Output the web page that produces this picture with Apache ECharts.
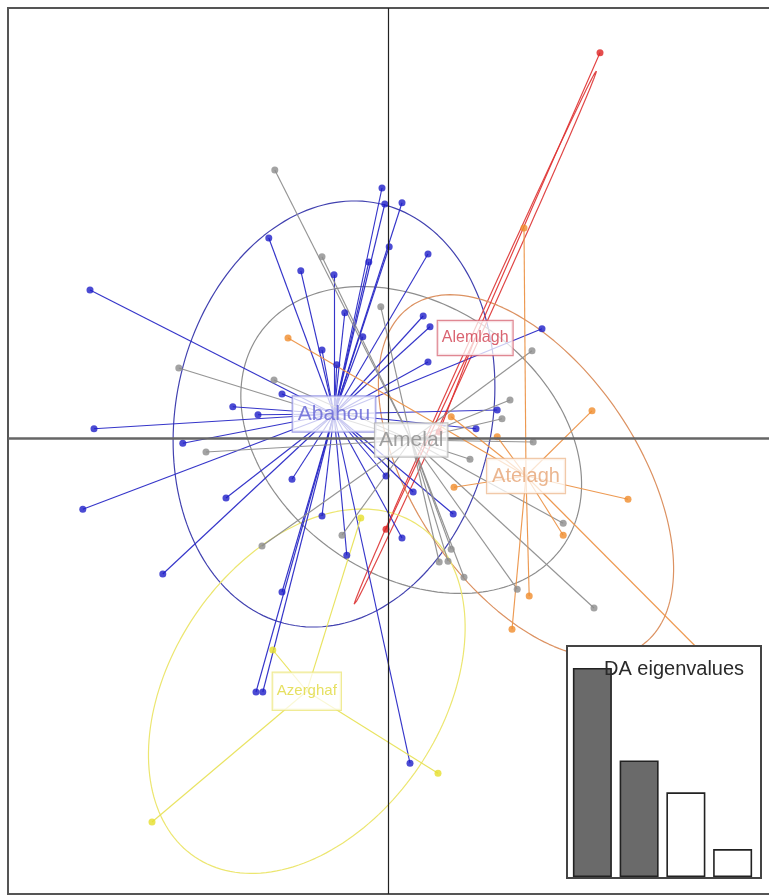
<!DOCTYPE html>
<html><head><meta charset="utf-8">
<script src="https://cdn.jsdelivr.net/npm/echarts@6/dist/echarts.min.js"></script>
<style>html,body{margin:0;padding:0;background:#fff}#c{width:769px;height:896px}</style>
</head><body><div id="c"></div>
<script>
// ---- data (LD1, LD2) ----
const groupNames = ['Abahou','Amelal','Alemlagh','Atelagh','Azerghaf'];
const centroidLD1 = [-1.35, 0.58, 2.18, 3.45, -2.03];
const centroidLD2 = [0.60, -0.05, 2.50, -0.95, -6.33];
const ellipseA = [5.38, 4.63, 7.33, 5.13, 5.0];
const ellipseB = [3.95, 3.38, 0.10, 2.80, 3.38];
const ellipseAngle = [78, -35, 65.6, -56, 56];

const abahouPoints = [[-7.45,3.70],[-2.98,5.00],[-2.18,4.18],[-1.35,4.08],[-0.15,6.25],[-0.08,5.85],[-0.48,4.40],[0.03,4.78],[-1.08,3.13],[-0.63,2.53],[-1.65,2.20],[-1.28,1.83],[-2.65,1.10],[-3.88,0.78],[-3.25,0.58],[-7.35,0.23],[-5.13,-0.13],[0.35,5.88],[1.00,4.60],[0.88,3.05],[1.05,2.78],[1.00,1.90],[3.85,2.73],[2.73,0.70],[2.20,0.23],[-0.05,-0.95],[0.63,-1.35],[1.63,-1.90],[0.35,-2.50],[-7.63,-1.78],[-4.05,-1.50],[-2.40,-1.03],[-5.63,-3.40],[-1.65,-1.95],[-1.03,-2.93],[-2.65,-3.85],[-3.30,-6.35],[-3.13,-6.35],[0.55,-8.13]];
const amelalPoints = [[-2.83,6.70],[-1.65,4.53],[-0.18,3.28],[-5.23,1.75],[-2.85,1.45],[-4.55,-0.35],[-3.15,-2.70],[-1.15,-2.43],[3.60,2.18],[3.05,0.95],[2.85,0.48],[3.63,-0.10],[2.05,-0.53],[4.38,-2.13],[1.28,-3.10],[1.50,-3.08],[1.58,-2.78],[1.90,-3.48],[3.23,-3.78],[5.15,-4.25]];
const alemlaghPoints = [[5.30,9.63],[-0.05,-2.28],[1.28,0.15]];
const atelaghPoints = [[-2.50,2.50],[3.40,5.25],[5.10,0.68],[6.00,-1.53],[4.38,-2.43],[3.53,-3.95],[3.10,-4.78],[1.65,-1.23],[7.78,-5.30],[2.73,0.03],[1.58,0.53]];
const azerghafPoints = [[-5.90,-9.60],[1.25,-8.38],[-0.68,-2.00],[-2.88,-5.30]];

const eigenNames = ['1','2','3','4'];
const eigenValues = [105, 58.5, 42.5, 14];
const nRetained = 2;

// ---- styles ----
const groupPoints = [abahouPoints, amelalPoints, alemlaghPoints, atelaghPoints, azerghafPoints];
const pointColors = ['#1e1ec8','#8c8c8c','#dd2222','#f08c2c','#e6de2c'];
const lineColors = ['#2a2ac6','#8e8e8e','#e03434','#ec9448','#e8e258'];
const ellipseColors = ['#4242b0','#8e8e8e','#e04848','#dc9262','#ece670'];
const labelTextColors = ['#6262d6','#8a8a8a','#d03c4c','#e6a474','#e0d83a'];
const labelBorderColors = ['#8a8ae0','#b4b4b4','#d86a78','#eebc94','#ece67a'];
const labelFontSizes = [21,21,16,20,15];
const labelPadding = [[6,5,6,5],[5,4,5,4],[8,4,8,4],[6,5,6,5],[10,4,10,4]];

function ellipsePts(i){
  const pts = [];
  const th = ellipseAngle[i]*Math.PI/180;
  for (let k=0;k<=180;k++){
    const t = k/180*2*Math.PI;
    const u = ellipseA[i]*Math.cos(t), v = ellipseB[i]*Math.sin(t);
    pts.push([centroidLD1[i]+u*Math.cos(th)-v*Math.sin(th), centroidLD2[i]+u*Math.sin(th)+v*Math.cos(th)]);
  }
  return pts;
}

const series = [];
groupNames.forEach((g,i)=>{
  const s = {
    type:'line', name:g+' ellipse', xAxisIndex:0, yAxisIndex:0,
    data: ellipsePts(i), showSymbol:false, symbol:'none', smooth:false,
    lineStyle:{color:ellipseColors[i], width:1.2}, z:1, silent:true
  };
  if (i===0){
    s.markLine = {silent:true, symbol:['none','none'], label:{show:false},
      data:[{xAxis:0, lineStyle:{color:'#222', width:1.2, type:'solid'}},
            {yAxis:0, lineStyle:{color:'#666', width:2.5, type:'solid'}}]};
  }
  series.push(s);
});
groupNames.forEach((g,i)=>{
  series.push({
    type:'lines', coordinateSystem:'cartesian2d', xAxisIndex:0, yAxisIndex:0,
    data: groupPoints[i].map(p=>({coords:[[centroidLD1[i],centroidLD2[i]], p]})),
    lineStyle:{color:lineColors[i], width:1.15, opacity:0.95}, z:2, silent:true
  });
});
groupNames.forEach((g,i)=>{
  series.push({
    type:'scatter', name:g, xAxisIndex:0, yAxisIndex:0,
    data: groupPoints[i], symbol:'circle', symbolSize:7,
    itemStyle:{color:pointColors[i]}, z:3, silent:true
  });
});
series.push({
  type:'scatter', xAxisIndex:0, yAxisIndex:0, symbolSize:0, z:10, silent:true,
  data: groupNames.map((g,i)=>({
    value:[centroidLD1[i],centroidLD2[i]], name:g,
    label:{show:true, position:'inside', formatter:g, color:labelTextColors[i],
      fontSize:labelFontSizes[i], lineHeight:labelFontSizes[i]+2, fontFamily:'Liberation Sans, Arial, sans-serif',
      backgroundColor:'rgba(255,255,255,0.92)', borderColor:labelBorderColors[i], borderWidth:1.2,
      padding:labelPadding[i]}
  }))
});
series.push({
  type:'bar', xAxisIndex:1, yAxisIndex:1, barWidth:39, z:110, silent:true,
  data: eigenValues.map((v,k)=>({value:v, itemStyle:{color: k<nRetained ? '#6a6a6a' : '#ffffff', borderColor:'#222', borderWidth:1.6}}))
});

const option = {
  animation:false,
  backgroundColor:'#fff',
  grid:[
    {left:8, top:8, width:761, height:886, show:false, containLabel:false},
    {left:569, top:646, width:187, height:231, show:false}
  ],
  xAxis:[
    {type:'value', gridIndex:0, min:-9.5, max:9.525, axisLine:{show:false}, axisTick:{show:false}, axisLabel:{show:false}, splitLine:{show:false}},
    {type:'category', gridIndex:1, data:eigenNames, axisLine:{show:false}, axisTick:{show:false}, axisLabel:{show:false}, splitLine:{show:false}}
  ],
  yAxis:[
    {type:'value', gridIndex:0, min:-11.4, max:10.75, axisLine:{show:false}, axisTick:{show:false}, axisLabel:{show:false}, splitLine:{show:false}},
    {type:'value', gridIndex:1, min:0, max:116, axisLine:{show:false}, axisTick:{show:false}, axisLabel:{show:false}, splitLine:{show:false}}
  ],
  graphic:[
    {type:'rect', z:0, shape:{x:8, y:8, width:820, height:886}, style:{fill:'none', stroke:'#555', lineWidth:2}, silent:true},
    {type:'rect', z:100, shape:{x:567, y:646, width:194, height:232}, style:{fill:'#fff', stroke:'#444', lineWidth:2}, silent:true},
    {type:'text', z:120, x:604, y:659, style:{text:'DA eigenvalues', fill:'#2a2a2a', font:'20px "Liberation Sans", Arial, sans-serif'}, silent:true}
  ],
  series
};
const chart = echarts.init(document.getElementById('c'), null, {renderer:'canvas'});
chart.setOption(option);
</script></body></html>
